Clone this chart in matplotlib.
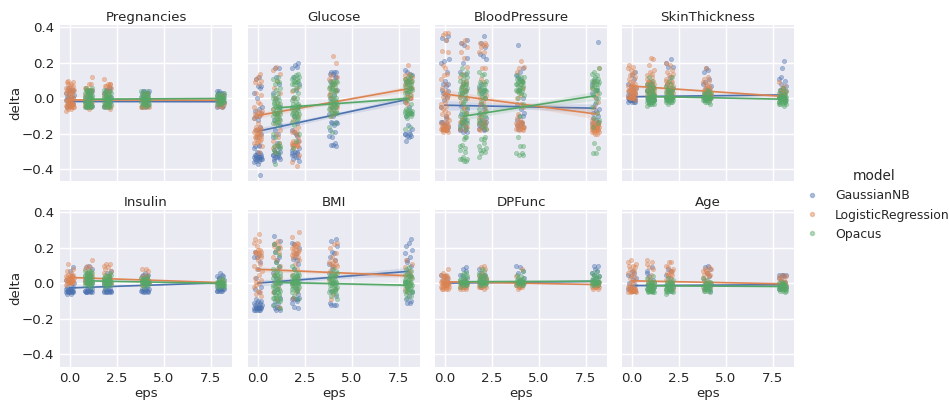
import matplotlib
matplotlib.use("Agg")
import matplotlib.pyplot as plt
from matplotlib.lines import Line2D

# delta values in hundredths, one inner list per eps level
EPS = [0, 1, 2, 4, 8]
OPACUS_EPS_START = 1
JITTER = [-0.17, 0.06, -0.03, 0.19, -0.11, 0.13, 0.01, -0.2, 0.09, -0.07, 0.16, -0.14,
          0.04, 0.2, -0.05, -0.18, 0.11, -0.01, 0.15, -0.09, 0.07, -0.16, 0.18, -0.12,
          0.02, 0.12, -0.06, -0.19, 0.08]

PREG_NB = [[-5,-4,-4,-3,-3,-2,-2,-1,-1,0,0,1,1,2,3,3,4,5,5,6], [-5,-5,-4,-4,-3,-3,-2,-1,0,1,2,3,4,5,5,3], [-5,-4,-3,-2,-1,0,1,2,3,4,5,6,5,6], [-5,-4,-3,-2,-1,0,1,2,3,3,4,4,4,3,-5], [-5,-5,-4,-4,-3,-3,-2,-2,-1,-1,0,0,1,1,2,2,3,3,3,4,4]]
PREG_LR = [[-7,-6,-6,-5,-5,-5,-5,-4,-4,-4,-4,-3,-3,-3,-3,-3,-2,-2,-2,-2,-1,-1,-1,0,0,1,2,2,3,3,3,4,4,5,5,5,6,6,6,7,7,8,8,9,9,10], [-6,-5,-5,-4,-4,-3,-3,-2,-2,-1,0,1,2,3,4,5,6,8,12,5,6,8,5], [-6,-5,-5,-4,-4,-3,-2,-1,0,1,2,3,4,5,6,7,8,8,11,7,7,8], [-5,-5,-5,-4,-4,-4,-3,-3,-2,-2,-1,0,1,2,3,3,-5], [-5,-4,-4,-3,-3,-2,-2,-1,0,1,2,2]]
PREG_OP = [[], [-5,-5,-5,-5,-4,-4,-4,-4,-4,-3,-3,-3,-3,-2,-2,-2,-2,-1,-1,-1,0,0,0,1,1,1,2,2,2,3,3,3,4,4,4,5,5,6,6], [-5,-5,-5,-4,-4,-4,-3,-3,-3,-3,-2,-2,-2,-2,-1,-1,-1,0,0,0,0,1,1,1,2,2,2,3,3,3,4,4,5], [-4,-4,-4,-3,-3,-3,-3,-2,-2,-2,-2,-1,-1,-1,-1,0,0,0,0,1,1,1,2,2,2,3,3,3,4,4], [-3,-3,-3,-2,-2,-2,-2,-1,-1,-1,-1,0,0,0,0,1,1,1,1,2,2,2,3,3]]

GLUC_NB = [[-43,-37,-36,-35,-35,-34,-34,-34,-34,-34,-33,-33,-33,-33,-33,-33,-32,-32,-32,-31,-31,-30,-28,-27,-27,-26,-22,-20,-18,-16,-12,-11,-10,-10,-8,-7,-6,-5,0,3,6,7,7,11,12],
           [-35,-34,-34,-33,-33,-33,-32,-32,-32,-31,-31,-30,-30,-28,-25,-22,-20,-18,-15,-12,-8,-5,0,3,8,12,17,17,-27,-29],
           [-35,-34,-33,-33,-32,-32,-31,-31,-30,-30,-28,-26,-24,-20,-18,-14,-10,-5,0,5,8,12,17,18,19,20,-19,-21,-29],
           [-27,-26,-26,-25,-22,-21,-19,-18,-15,-14,-14,-13,-13,-10,-9,-8,-5,-2,0,2,5,8,10,12,14,15,15,15,14,12],
           [-24,-22,-21,-21,-20,-20,-20,-19,-15,-17,-10,-8,-5,-2,0,3,6,9,11,13,15,16,14]]
GLUC_LR = [[-30,-27,-25,-25,-24,-24,-23,-23,-22,-22,-21,-21,-20,-20,-20,-19,-19,-18,-18,-17,-17,-16,-16,-14,-11,-10,-10,-9,-9,-8,-7,-7,-5,-3,-2,2,3,8,9,10,11,12,14],
           [-30,-28,-26,-24,-22,-20,-18,-14,-12,-9,-6,-3,0,3,6,10,14,18,16,-8,-10,-25,-27],
           [-38,-36,-32,-28,-27,-27,-26,-26,-26,-25,-25,-25,-24,-24,-22,-20,-19,-19,-18,-16,-12,-8,-4,0,4,6,-6,-10],
           [-10,-8,-6,-5,-4,-3,-2,0,2,4,6,8,10,12,13,20,24,11,9,7,5,3,-7,-5],
           [-3,-1,0,1,2,3,4,5,6,7,8,9,10,11,12,13,14,19,12,11,10,9,8,6,1,0,-2]]
GLUC_OP = [[],
           [-37,-31,-29,-28,-27,-26,-25,-22,-20,-15,-14,-13,-13,-12,-12,-11,-11,-10,-10,-9,-9,-8,-8,-7,-7,-6,-6,-5,-5,-4,-4,-3,-3,-2,-2,-1,-1,0,1,2,3,5,6,8,9,10,11,12,-30,-27],
           [-28,-24,-20,-15,-13,-12,-11,-11,-10,-10,-9,-9,-8,-8,-7,-7,-6,-6,-5,-5,-4,-4,-3,-3,-2,-1,0,1,3,5,6,7,8,8,9,9,10,10,11,11,12,12,13,14],
           [-19,-16,-14,-10,-9,-8,-8,-7,-7,-6,-6,-5,-5,-4,-4,-3,-3,-2,-2,-1,-1,0,0,2,2,4,4,5,5,6,6,7,7,8,8,9,9,10,10],
           [-17,-16,-11,-10,-10,-9,-9,-9,-8,-8,-8,-8,-7,-7,-7,-7,-6,-6,-3,-1,0,2,3,4,4,5,5,6,6,7,7,8,8,9,9,10,10,11,11,12,13]]

BP_NB = [[35,34,33,22,21,20,15,10,8,8,7,5,4,3,2,1,-1,-5,-10,-13,-14,-15,-16,-17,-18,-15,-13,-11,-17],
         [33,31,30,23,20,15,14,8,5,3,0,-4,-6,-9,-12,-13,-14,-15,-16,-17,-18,-19,-19,-14,-16,-11,-18],
         [35,31,29,25,24,22,8,6,5,3,0,-3,-6,-9,-11,-13,-14,-15,-16,-17,-18,-15,-17,-12,-13],
         [30,17,15,13,10,5,0,-3,-6,-8,-10,-12,-14,-15,-16,-17,-13,-15,-10,12,11],
         [32,10,8,5,3,0,-3,-6,-8,-10,-12,-14,-16,-15,-13,-11,-7]]
BP_LR = [[37,37,36,33,27,26,19,17,14,13,11,8,6,4,3,2,1,0,-2,-3,-4,-6,-8,-9,-10,-12,-13,-14,-14,-15,-15,-15,-16,-16,-16,-16,-17,-17,-17,-17,-18,-18,-18,-18,-19,-19,-11,-7,-5],
         [33,31,29,26,23,18,14,12,10,9,8,6,4,2,0,-2,-5,-8,-11,-13,-15,-17,-18,-14,-16,-12,-9,-6,1,5,7],
         [31,31,30,30,29,26,26,17,17,11,9,5,2,0,-2,-5,-8,-11,-13,-14,-15,-16,-17,-18,-14,-15,-17,-12,-10,-7,-3],
         [21,18,17,15,10,8,6,4,2,0,-5,-9,-12,-13,-13,-14,-14,-15,-15,-15,-16,-16,-16,-17,-17,-17,-18,-18,-11,-3],
         [17,9,6,3,1,-2,-5,-8,-12,-13,-14,-14,-15,-15,-15,-15,-16,-16,-16,-16,-16,-17,-17,-17,-17,-18,-18,-18,-18,-19,-19,-19,-20,-20,-15,-12]]
BP_OP = [[],
         [-23,-22,-26,-27,-28,-29,-30,-33,-34,-34,-35,-35,-34,-22,17,15,14,13,12,11,10,9,8,8,7,7,6,6,5,4,4,3,3,2,1,-1,-3,-5,-7,-8,-9,-10,-11,-12,-12,-13,-13,-14,-15,-16,-17,-2],
         [-22,-23,-25,-27,-28,-29,-29,-30,-31,-33,-23,15,14,13,10,9,8,8,7,6,6,5,5,4,4,3,3,2,1,0,-2,-4,-6,-7,-8,-9,-10,-11,-12,-13,-14,-15,-16,-17],
         [-22,-27,-27,-31,-31,-32,-32,13,12,12,11,11,10,10,9,9,8,8,7,7,6,6,5,5,4,4,3,3,2,0,-3,-10,8,9],
         [-25,-28,-31,-31,17,15,14,13,12,11,11,10,10,9,9,8,8,7,7,6,6,5,4,3,2,0,-2,-5,-8,-11,-14,-16,5,-12]]

SKIN_NB = [[-2,-2,-2,-2,-1,-1,-1,-1,-1,-1,-1,0,0,0,0,0,0,0,1,1,1,2,2,2,3,4,5,6,7,8,11,13,15], [-2,-1,-1,0,0,1,2,3,4,5,7,8,9,-1], [-1,0,0,1,2,4,6,8,12,18,18,20,22,3,5], [-1,0,1,2,3,4,5,6,8,11,15,16,17,7,9], [-1,0,1,2,3,4,5,6,7,8,11,21,17,10,12]]
SKIN_LR = [[-1,0,0,0,0,1,1,1,1,2,2,2,3,3,4,4,5,5,5,6,6,7,7,7,8,8,9,10,11,12,13,14,15,16,17,18,19,4,6,3], [0,1,1,2,2,3,3,4,4,5,5,5,6,6,6,7,7,8,8,9,9,10,10,11,12,13,14,15,16,19,22,23,8], [0,1,1,2,2,3,3,4,4,5,5,6,6,7,7,8,8,9,9,10,10,11,12,13,14,15,16,19,20], [-1,0,0,1,1,2,2,3,3,3,4,4,5,5,6,6,7,7,8,9,10,11,12,17,2], [0,0,1,1,2,2,3,3,4,4,5,9,7,6]]
SKIN_OP = [[], [-4,-3,-3,-3,-3,-2,-2,-2,-2,-2,-1,-1,-1,-1,0,0,0,0,1,1,1,1,2,2,2,3,3,4,4,5,5,6,6,7,7,8,8,10,12,-1,0,1,2], [-3,-2,-2,-2,-2,-1,-1,-1,-1,-1,0,0,0,0,0,1,1,1,1,2,2,2,3,3,4,4,5,5,6,6,7,8,10,12,0,-1,1], [-3,-2,-2,-2,-1,-1,-1,-1,0,0,0,0,0,1,1,1,1,2,2,2,3,3,3,4,5,0,1], [-4,-3,-3,-3,-3,-2,-2,-2,-2,-2,-1,-1,-1,-1,-1,0,0,0,0,0,0,1,1,1,1,1,2,2,2,3,3,4,5,6,-2,-1,0]]

INS_NB = [[-6,-6,-5,-5,-5,-5,-5,-5,-4,-4,-4,-4,-4,-4,-4,-3,-3,-3,-3,-2,-2,-1,0,1,2,4,7,9], [-5,-5,-5,-5,-5,-4,-4,-4,-4,-4,-4,-3,-3,-3,-2,-1,0,2,4,6,8,9,10], [-5,-5,-5,-5,-5,-4,-4,-4,-4,-4,-3,-3,-3,-2,-1,0,2,4,6,7], [-5,-5,-5,-4,-4,-4,-4,-4,-3,-3,-3,-3,-2,-1,1,2,3,4,5,5,6,4], [-4,-4,-4,-4,-4,-3,-3,-3,-3,-3,-2,-2,-2,-1,0,1,2,3,4,5,6,4,3]]
INS_LR = [[-1,0,0,0,1,1,1,1,2,2,2,2,2,3,3,3,3,4,4,4,5,5,6,7,8,11,1,2], [0,1,1,2,2,3,4,5,6,7,8,9,10,13,3,4], [0,1,1,2,2,3,4,5,6,7,8,9,11,11,10,3], [-1,0,0,1,1,2,2,3,4,5,7,8,8,1], [-1,0,0,1,1,1,2]]
INS_OP = [[], [-2,-1,-1,-1,0,0,0,0,1,1,1,1,2,2,2,2,3,3,3,3,4,4,4,5,5,5,6,6,6,7,7,7,2,1,0], [-2,-1,-1,-1,0,0,0,0,1,1,1,1,2,2,2,2,3,3,3,4,4,5,5,6,1,0,2], [-2,-1,-1,-1,0,0,0,0,1,1,1,1,2,2,2,2,3,3,3,4,1,0], [-2,-2,-2,-1,-1,-1,-1,0,0,0,0,0,1,1,1,1,2,2,3,0,-1,1]]

BMI_NB = [[-15,-15,-15,-15,-15,-14,-14,-14,-14,-14,-14,-14,-13,-13,-13,-12,-12,-12,-11,-11,-11,-10,-10,-9,-5,-3,-2,3,8,12,15,15,16,18,-14], [-15,-15,-14,-14,-13,-12,-11,-10,-8,-5,-3,0,3,6,9,12,15,18,20,22,24,27,13], [-14,-13,-11,-10,-9,-9,-9,-8,-8,-6,-3,0,4,8,11,14,17,20,22,23,13,15], [-12,-12,-12,-11,-7,-4,0,4,8,11,13,15,17,18,21,24,25,10,6], [-11,-11,-10,-9,-7,-5,-2,1,4,7,10,13,15,17,19,21,23,25,12]]
BMI_LR = [[-7,-6,-5,-4,-2,0,1,2,3,5,7,8,10,11,13,15,17,17,18,18,18,19,19,21,23,24,25,28,15,16,-1], [-13,-9,-5,-2,0,3,5,8,10,13,15,17,19,21,23,24,21,20], [-8,-5,-3,-1,1,3,5,8,11,13,15,15,16,16,17,17,18,18,19,19,20,20,21,21,22,22,23,26,29], [-9,-6,-3,0,2,5,7,9,10,10,11,11,12,12,13,15,17,20,22,23], [-5,-3,-1,1,3,5,7,9,11,13,6,4]]
BMI_OP = [[], [-14,-12,-10,-9,-8,-8,-7,-7,-6,-6,-5,-5,-4,-4,-3,-3,-2,-2,-1,-1,0,0,1,1,2,2,3,3,4,4,5,5,6,6,8,10,12,16,18,20,22,-10,-8,7], [-9,-7,-5,-4,-3,-3,-2,-2,-2,-1,-1,-1,0,0,0,1,1,1,2,2,2,3,3,3,4,4,5,5,6,6,8,10,-4,0,1,2], [-9,-7,-6,-5,-5,-4,-4,-3,-3,-2,-2,-1,-1,-1,0,0,0,1,1,1,2,2,2,3,3,4,4,5,5,6,6,7,8,3,-3], [-8,-7,-6,-5,-5,-4,-4,-3,-3,-2,-2,-1,-1,-1,0,0,0,1,1,1,2,2,2,3,3,4,4,5,5,6,7,8,9,-4,-2,1]]

DPF_NB = [[-1,0,1,2,3,4,5], [-2,-1,0,1,2,3,4,5,7,8,9], [-2,0,1,2,3,4,5,6,8], [-1,0,1,2,3,6,7,9,10], [-1,0,1,2,3,4,5,6,7,8,10,10]]
DPF_LR = [[-3,-3,-3,-3,-2,-2,-2,-2,-1,-1,-1,-1,-1,0,0,0,0,1,1,1,2,2,3,3,3,4,4,4,5,5,6,8,-2,-1,0], [-3,-3,-3,-2,-2,-2,-1,-1,-1,0,0,0,1,1,2,-2], [-3,-2,-2,-2,-1,-1,-1,0,0,0,1,1,2,3,4,5,6,8,9,10,-2,3], [-3,-2,-2,-2,-1,-1,-1,0,0,0,1,1,2,4,8,-2], [-3,-3,-2,-2,-2,-2,-1,-1,-1,0,0,0,1,1,-2,-1]]
DPF_OP = [[], [-2,-1,-1,-1,0,0,0,0,1,1,1,1,2,2,2,3,3,4,5,6,6,0,1], [-1,-1,-1,0,0,0,1,1,1,1,2,2,2,3,3,3,4,4,5,5,6,7,8,0,1], [-1,-1,-1,0,0,0,1,1,1,1,2,2,2,3,3,4,5,7,0,1], [-1,-1,-1,0,0,0,0,1,1,1,1,2,2,2,3,3,4,4,5,6,7,0,1]]

AGE_NB = [[-4,-3,-3,-2,-1,0,2,3,4,5,6,7,-4,-3], [-4,-3,-2,-1,0,2,4,6,9,7], [-4,-3,-2,-1,1,3,5,7,8], [-4,-3,-2,-1,0,2,4,6,8,9,10], [-3,-2,-1,0,1,2,3,4,5,5,5,5]]
AGE_LR = [[-5,-5,-5,-4,-4,-4,-4,-4,-3,-3,-3,-3,-3,-2,-2,-2,-1,0,1,2,3,4,5,6,7,8,9,10,10,11,13,12,7,-4,-3], [-3,-2,0,1,3,5,8,9,11,12,13,-1,2], [-3,-2,0,1,2,3,4,5,6,7,8,9,10,12,12,7,5,6], [-3,-2,-1,0,1,2,3,4,5,6,7,8,8,5,6,7,9], [-3,-3,-2,-2,-1,-1,0,0,1,1,2,2,3,4,4,5]]
AGE_OP = [[], [-5,-5,-5,-4,-4,-4,-4,-3,-3,-3,-3,-2,-2,-2,-2,-1,-1,-1,0,0,0,1,1,2,3,4,-4,-3,-2,-1], [-6,-5,-5,-4,-4,-4,-3,-3,-3,-3,-2,-2,-2,-1,-1,-1,0,0,0,1,1,2,3,-4,-3,-2], [-5,-4,-4,-4,-3,-3,-3,-2,-2,-2,-1,-1,-1,0,0,0,1,2,3,-3,-2], [-5,-4,-4,-4,-3,-3,-3,-3,-3,-2,-2,-2,-2,-2,-1,-1,-1,-1,0,0,0,1,-3,-2,-1]]

# regression line values at the first and last eps, then CI half-widths at start, middle, end
FEATURES = ["Pregnancies", "Glucose", "BloodPressure", "SkinThickness", "Insulin", "BMI", "DPFunc", "Age"]
MODELS = ["GaussianNB", "LogisticRegression", "Opacus"]
COLORS = ["#4C72B0", "#DD8452", "#55A868"]
POINTS = [[PREG_NB, PREG_LR, PREG_OP], [GLUC_NB, GLUC_LR, GLUC_OP], [BP_NB, BP_LR, BP_OP], [SKIN_NB, SKIN_LR, SKIN_OP],
          [INS_NB, INS_LR, INS_OP], [BMI_NB, BMI_LR, BMI_OP], [DPF_NB, DPF_LR, DPF_OP], [AGE_NB, AGE_LR, AGE_OP]]
FIT_NB = [(-.017, -.018), (-.185, -.004), (-.038, -.055), (.010, .020), (-.025, .004), (.002, .068), (.002, .012), (-.012, -.007)]
FIT_LR = [(-.008, -.010), (-.096, .055), (.025, -.087), (.070, .012), (.034, .005), (.080, .043), (.010, -.006), (.015, -.002)]
FIT_OP = [(-.004, -.000), (-.053, .000), (-.100, .015), (.011, -.004), (.015, .000), (.006, -.010), (.010, .013), (-.013, -.017)]
CI_NB = [(.004, .002, .004), (.020, .010, .020), (.028, .012, .026), (.006, .003, .006), (.004, .002, .004), (.018, .010, .024), (.003, .002, .004), (.004, .002, .004)]
CI_LR = [(.004, .002, .004), (.016, .008, .016), (.026, .012, .028), (.008, .004, .008), (.005, .002, .005), (.014, .007, .014), (.003, .002, .003), (.005, .002, .004)]
CI_OP = [(.004, .002, .004), (.012, .007, .014), (.022, .012, .026), (.004, .002, .004), (.003, .002, .003), (.008, .005, .010), (.003, .002, .003), (.003, .002, .003)]
FITS = [FIT_NB, FIT_LR, FIT_OP]
CIS = [CI_NB, CI_LR, CI_OP]
XTICKS = [0.0, 2.5, 5.0, 7.5]
YTICKS = [-0.4, -0.2, 0.0, 0.2, 0.4]
FS = 9.6
INK = "#262626"

W, H = 949, 401
fig = plt.figure(figsize=(W / 100, H / 100), dpi=100, facecolor="white")
plt.rcParams["font.family"] = "DejaVu Sans"
lefts = [60, 248, 435, 622]
tops = [25, 210]
pw, ph = 172, 156.5

for idx, name in enumerate(FEATURES):
    r, c = divmod(idx, 4)
    ax = fig.add_axes([lefts[c] / W, 1 - (tops[r] + ph) / H, pw / W, ph / H])
    ax.set_facecolor("#EAEAF2")
    for s in ax.spines.values():
        s.set_visible(False)
    ax.grid(True, color="white", lw=1.0)
    ax.set_axisbelow(True)
    ax.tick_params(length=0, labelsize=FS, colors=INK, pad=4)
    for m in range(3):
        xs, ys, k = [], [], idx * 5 + m * 7
        for e, group in zip(EPS, POINTS[idx][m]):
            for v in group:
                xs.append(e + JITTER[k % len(JITTER)])
                ys.append(v / 100)
                k += 1
        ax.scatter(xs, ys, s=9.5, color=COLORS[m], alpha=0.42, linewidths=0.5, zorder=3 + m * 2)
        x0 = OPACUS_EPS_START if m == 2 else EPS[0]
        x1 = EPS[-1]
        y0, y1 = FITS[m][idx]
        c0, cm, c1 = CIS[m][idx]
        xm, ym = (x0 + x1) / 2, (y0 + y1) / 2
        ax.fill_between([x0, xm, x1], [y0 - c0, ym - cm, y1 - c1], [y0 + c0, ym + cm, y1 + c1],
                        color=COLORS[m], alpha=0.15, lw=0, zorder=4 + m * 2)
        ax.plot([x0, x1], [y0, y1], color=COLORS[m], lw=1.2, zorder=4 + m * 2)
    ax.set_xlim(-0.52, 8.62)
    ax.set_ylim(-0.468, 0.414)
    ax.set_xticks(XTICKS)
    ax.set_yticks(YTICKS)
    ax.set_title(name, fontsize=FS, color=INK, pad=2.8)
    if r == 1:
        ax.set_xlabel("eps", fontsize=FS, color=INK, labelpad=1.5)
    else:
        ax.tick_params(labelbottom=False)
    if c == 0:
        ax.set_ylabel("delta", fontsize=FS, color=INK, labelpad=0)
    else:
        ax.tick_params(labelleft=False)

handles = [Line2D([], [], ls="", marker="o", ms=2.9, mfc=col, mec=col, alpha=0.42) for col in COLORS]
leg = fig.legend(handles, MODELS, title="model", frameon=False, fontsize=8.9, title_fontsize=9.8,
                 loc="center left", bbox_to_anchor=(799.6 / W, 1 - 205 / H), labelcolor=INK,
                 handletextpad=0.85, labelspacing=0.5, borderpad=0, borderaxespad=0)
leg.get_title().set_color(INK)
fig.savefig("out.png", dpi=100)
